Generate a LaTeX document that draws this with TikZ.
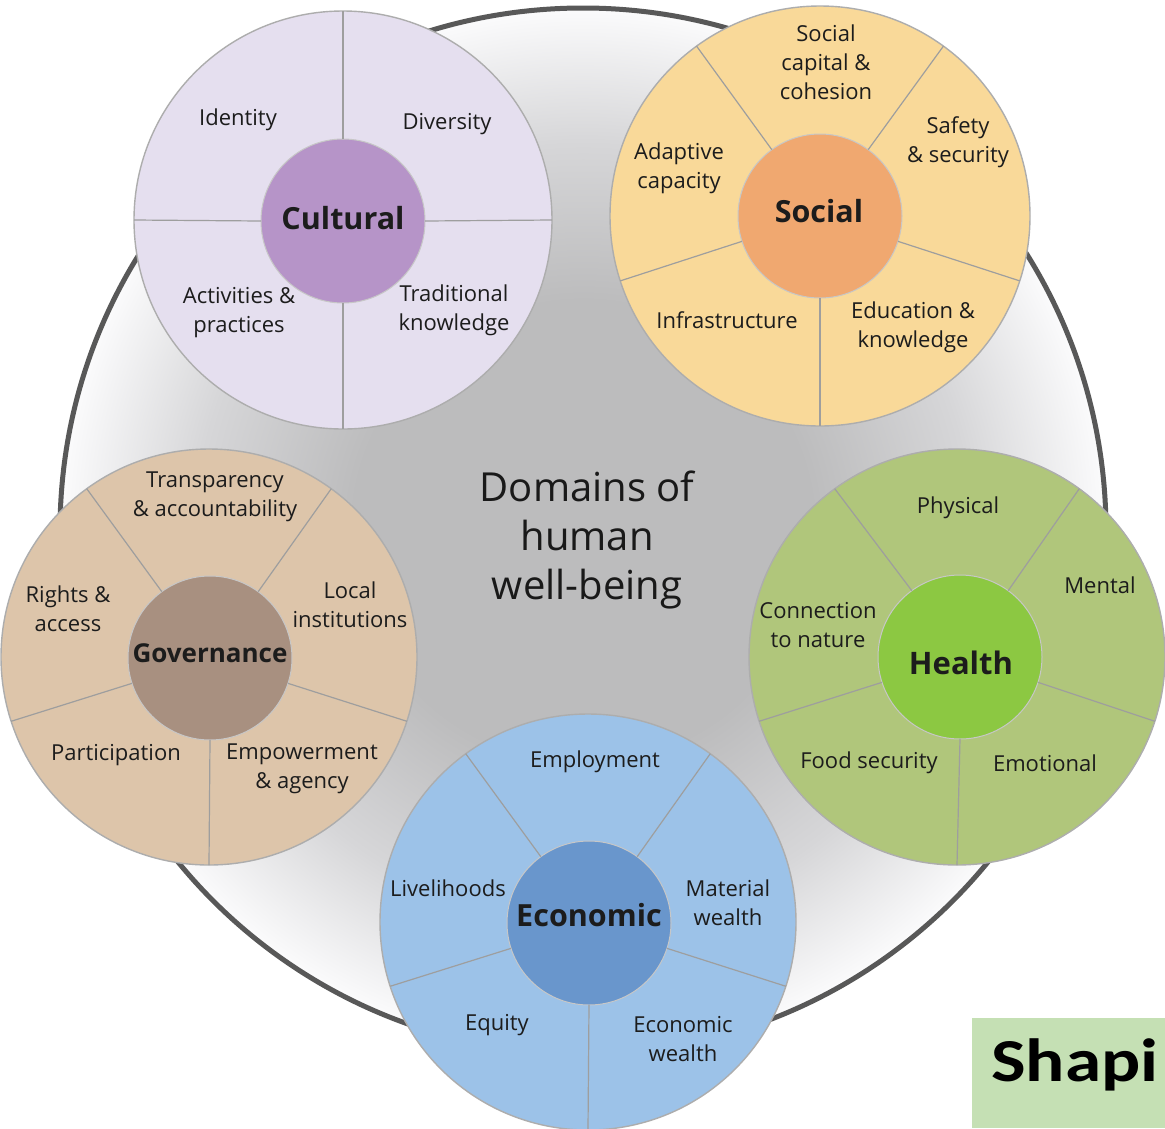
\documentclass[tikz,border=0pt]{standalone}
\usepackage{fontspec}
\setmainfont{Open Sans}
\newfontfamily\shapifont[FakeStretch=1.2]{Carlito}
\definecolor{bgin}{RGB}{188,188,189}
\definecolor{bgmid}{RGB}{214,214,216}
\definecolor{bgout}{RGB}{251,251,252}
\definecolor{bigline}{RGB}{88,88,88}
\definecolor{culout}{RGB}{229,223,239}
\definecolor{culin}{RGB}{182,148,200}
\definecolor{socout}{RGB}{249,217,153}
\definecolor{socin}{RGB}{240,168,112}
\definecolor{govout}{RGB}{221,197,170}
\definecolor{govin}{RGB}{168,144,128}
\definecolor{heaout}{RGB}{176,198,123}
\definecolor{heain}{RGB}{140,200,66}
\definecolor{ecoout}{RGB}{156,194,232}
\definecolor{ecoin}{RGB}{105,150,204}
\definecolor{shapigreen}{RGB}{197,224,180}
\definecolor{txt}{RGB}{28,28,28}
\pgfdeclareradialshading{bigshade}{\pgfpointorigin}{color(0bp)=(bgin); color(11bp)=(bgin); color(18.5bp)=(bgmid); color(25bp)=(bgout); color(50bp)=(bgout)}
\begin{document}
\begin{tikzpicture}[x=1pt,y=-1pt,
  outerring/.style={circle,inner sep=0pt,outer sep=0pt,minimum size=416pt,draw=black!32,line width=1.4pt},
  innerring/.style={circle,inner sep=0pt,outer sep=0pt,minimum size=164pt,draw=black!22,line width=1pt},
  spoke/.style={draw=black!38,line width=1.2pt},
  lab/.style={align=center,text=txt,inner sep=0pt,font=\fontsize{22}{29}\selectfont},
  hub/.style={align=center,text=txt,inner sep=0pt,font=\bfseries\fontsize{#1}{#1}\selectfont},
  title/.style={align=center,text=black!90,inner sep=0pt,font=\fontsize{40}{49}\selectfont}]
\useasboundingbox (0,0) rectangle (1165,1128);
\fill[white] (0,0) rectangle (1165,1128);
% big circle
\node[circle,inner sep=0pt,outer sep=0pt,minimum size=1046pt,shading=bigshade,draw=bigline,line width=5pt] (big) at (583,531) {};
\node[title] (ttl) at (587,540) {Domains of\\human\\well-being};

% Cultural
\node[outerring,minimum size=418pt,fill=culout] (cul) at (343,220) {};
\node[innerring,fill=culin] (culc) at (343,221) {};
\foreach \a in {0,90,180,270}{\draw[spoke] (culc.\a) -- (cul.\a);}
\node[hub=30.5] (culh) at (343,218) {Cultural};
\node[lab] (cul1) at (238,120) {Identity};
\node[lab] (cul2) at (447,124) {Diversity};
\node[lab] (cul3) at (239,313) {Activities \&\\practices};
\node[lab] (cul4) at (454,310) {Traditional\\knowledge};

% Social
\node[outerring,minimum size=420pt,fill=socout] (soc) at (820,216) {};
\node[innerring,fill=socin] (socc) at (820,216) {};
\foreach \a in {54,126,198,270,342}{\draw[spoke] (socc.\a) -- (soc.\a);}
\node[hub=30.5] (soch) at (819,211) {Social};
\node[lab] (soc1) at (826,62) {Social\\capital \&\\cohesion};
\node[lab] (soc2) at (958,142) {Safety\\\& security};
\node[lab] (soc3) at (679,168) {Adaptive\\capacity};
\node[lab] (soc4) at (727,320) {Infrastructure};
\node[lab] (soc5) at (913,327) {Education \&\\knowledge};

% Governance
\node[outerring,fill=govout] (gov) at (209,657) {};
\node[innerring,fill=govin] (govc) at (210,658) {};
\foreach \a in {54,126,198,270,342}{\draw[spoke] (govc.\a) -- (gov.\a);}
\node[hub=26] (govh) at (210,653) {Governance};
\node[lab] (gov1) at (215,497) {Transparency\\\& accountability};
\node[lab] (gov2) at (68,609) {Rights \&\\access};
\node[lab] (gov3) at (350,605) {Local\\institutions};
\node[lab] (gov4) at (116,755) {Participation};
\node[lab] (gov5) at (302,769) {Empowerment\\\& agency};

% Health
\node[outerring,fill=heaout] (hea) at (957,657) {};
\node[innerring,fill=heain] (heac) at (960,657) {};
\foreach \a in {54,126,198,270,342}{\draw[spoke] (heac.\a) -- (hea.\a);}
\node[hub=31] (heah) at (961,663) {Health};
\node[lab] (hea1) at (958,508) {Physical};
\node[lab] (hea2) at (1100,585) {Mental};
\node[lab] (hea3) at (818,625) {Connection\\to nature};
\node[lab] (hea4) at (869,763) {Food security};
\node[lab] (hea5) at (1045,763) {Emotional};

% Economic
\node[outerring,fill=ecoout] (eco) at (588,922) {};
\node[innerring,fill=ecoin] (ecoc) at (589,923) {};
\foreach \a in {54,126,198,270,342}{\draw[spoke] (ecoc.\a) -- (eco.\a);}
\node[hub=30.5] (ecoh) at (589,915) {Economic};
\node[lab] (eco1) at (595,762) {Employment};
\node[lab] (eco2) at (448,888) {Livelihoods};
\node[lab] (eco3) at (728,903) {Material\\wealth};
\node[lab] (eco4) at (497,1025) {Equity};
\node[lab] (eco5) at (683,1039) {Economic\\wealth};

% Shapi
\node[fill=shapigreen,inner sep=0pt,outer sep=0pt,minimum width=193pt,minimum height=110pt,anchor=north west] (shbox) at (972,1018) {};
\node[anchor=base west,inner sep=0pt,font=\shapifont\bfseries\fontsize{61}{61}\selectfont] (shtext) at (991,1081) {Shapi};
\end{tikzpicture}
\end{document}
